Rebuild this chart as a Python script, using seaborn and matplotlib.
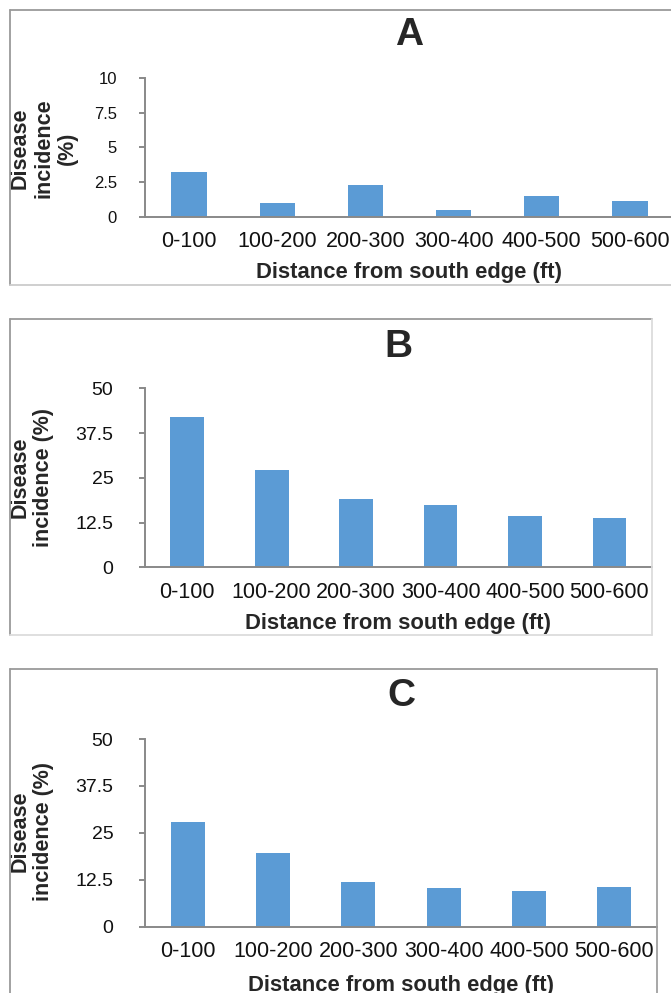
import matplotlib
matplotlib.use("Agg")
import matplotlib.pyplot as plt
from matplotlib.lines import Line2D
import seaborn as sns
import pandas as pd

# ---------------- data ----------------
categories = ['0-100', '100-200', '200-300', '300-400', '400-500', '500-600']
incidence_a = [3.25, 1.03, 2.27, 0.53, 1.48, 1.15]
incidence_b = [42.0, 27.2, 19.2, 17.4, 14.2, 13.8]
incidence_c = [27.9, 19.6, 12.0, 10.2, 9.6, 10.7]
panel_titles = ['A', 'B', 'C']
yticks_a = [0, 2.5, 5, 7.5, 10]
ytick_labels_a = ['0', '2.5', '5', '7.5', '10']
yticks_bc = [0, 12.5, 25, 37.5, 50]
ytick_labels_bc = ['0', '12.5', '25', '37.5', '50']
xlabel_text = 'Distance from south edge (ft)'
ylabel_a = 'Disease\nincidence\n(%)'
ylabel_bc = 'Disease\nincidence (%)'

# ---------------- style ----------------
sns.set_style('white')
plt.rcParams['font.family'] = ['Liberation Sans', 'DejaVu Sans']

W, H = 671, 993
fig = plt.figure(figsize=(W / 100, H / 100), dpi=100)

BAR = '#5B9BD5'
AXC = '#898989'


def fx(px):
    return px / W


def fy(py):
    return 1 - py / H


def add_panel(values, title, yticks, yticklabels, ylabel, geo):
    L, R, T, B = geo['axes']
    ax = fig.add_axes([fx(L), fy(B), fx(R) - fx(L), fy(T) - fy(B)])
    df = pd.DataFrame({'Distance': categories, 'Incidence': values})
    sns.barplot(data=df, x='Distance', y='Incidence', color=BAR, width=0.4,
                saturation=1, linewidth=0, ax=ax)
    ax.set_xlim(-0.5, 5.5)
    ax.set_ylim(yticks[0], yticks[-1])
    ax.set_yticks(yticks)
    ax.set_yticklabels(yticklabels)
    ax.set_facecolor('none')
    for s in ['top', 'right']:
        ax.spines[s].set_visible(False)
    for s in ['left', 'bottom']:
        ax.spines[s].set_color(AXC)
        ax.spines[s].set_linewidth(1.4)
    ax.tick_params(axis='y', direction='out', length=4.3, width=1.4, color=AXC,
                   pad=geo['ypad'], labelsize=geo['ytick_size'], labelcolor='#111111',
                   left=True)
    ax.tick_params(axis='x', length=0, pad=geo['xpad'], labelsize=15.5,
                   labelcolor='#111111')
    # axis labels
    ax.set_xlabel(xlabel_text, fontsize=15.8, fontweight='bold', va='baseline')
    ax.xaxis.set_label_coords((geo['xlab'][0] - L) / (R - L),
                              (B - geo['xlab'][1]) / (B - T))
    ax.set_ylabel(ylabel, fontsize=15.5, fontweight='bold', va='center', ha='center',
                  multialignment='center', linespacing=1.15)
    ax.yaxis.set_label_coords((geo['ylab'][0] - L) / (R - L),
                              (B - geo['ylab'][1]) / (B - T))
    ax.set_title(title, fontsize=28, fontweight='bold', va='baseline', pad=0,
                 y=(B - geo['title_y']) / (B - T))
    ax.grid(False)
    # panel border
    bl, bt, br, bb = geo['box']
    lw = 1.3
    fig.add_artist(Line2D([fx(bl), fx(br)], [fy(bt), fy(bt)], color='#9a9a9a', lw=lw))
    fig.add_artist(Line2D([fx(bl), fx(bl)], [fy(bt), fy(bb)], color='#9a9a9a', lw=lw))
    fig.add_artist(Line2D([fx(br), fx(br)], [fy(bt), fy(bb)], color=geo['rc'], lw=lw))
    fig.add_artist(Line2D([fx(bl), fx(br)], [fy(bb), fy(bb)], color=geo['rc'], lw=lw))
    return ax


geoA = dict(axes=(145, 674, 77.7, 217), ypad=15.8, ytick_size=12, xpad=10.4,
            xlab=(409.5, 278.3), ylab=(44, 148), title_y=45.2,
            box=(10, 9.5, 690, 285), rc='#cccccc')
geoB = dict(axes=(145, 651.7, 388.3, 567.3), ypad=18.5, ytick_size=14, xpad=10.4,
            xlab=(398.4, 629), ylab=(31.5, 477.5), title_y=357,
            box=(10, 319.3, 651.7, 635), rc='#dcdcdc')
geoC = dict(axes=(145, 657, 739, 926.7), ypad=18.5, ytick_size=14, xpad=10.4,
            xlab=(401, 990.7), ylab=(31.5, 831.5), title_y=705.6,
            box=(10, 669.3, 657, 1005), rc='#a0a0a0')

add_panel(incidence_a, panel_titles[0], yticks_a, ytick_labels_a, ylabel_a, geoA)
add_panel(incidence_b, panel_titles[1], yticks_bc, ytick_labels_bc, ylabel_bc, geoB)
add_panel(incidence_c, panel_titles[2], yticks_bc, ytick_labels_bc, ylabel_bc, geoC)

fig.savefig('out.png', dpi=100, facecolor='white')
